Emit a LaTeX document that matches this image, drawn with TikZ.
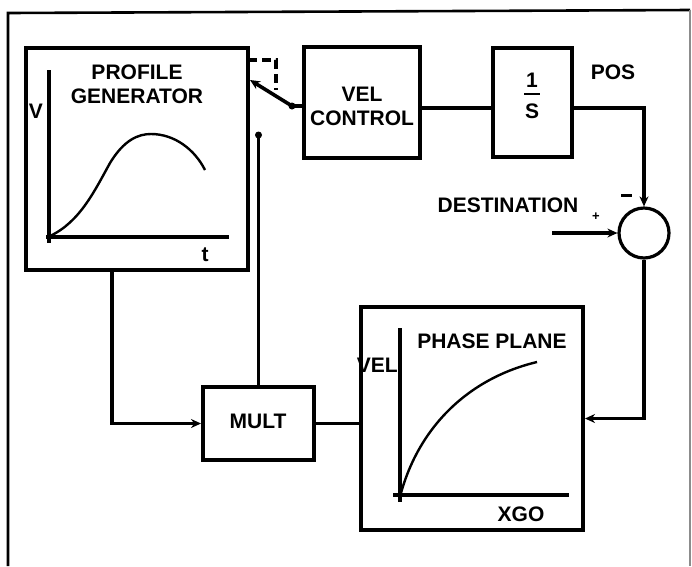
\documentclass[tikz,border=0pt]{standalone}
\usepackage{fontspec}
\setmainfont{Liberation Sans}
\usetikzlibrary{arrows.meta,calc}
\begin{document}
\begin{tikzpicture}[x=1pt,y=-1pt,
  every node/.style={font=\fontsize{21}{24}\selectfont\bfseries, inner sep=0pt},
  blk/.style={draw, line width=4pt, rectangle},
  wire/.style={line width=3.6pt},
  arr/.style={wire, -{Stealth[length=10pt,width=9pt]}},
  plotline/.style={line width=2.4pt},
  axisline/.style={line width=3.4pt},
  frameline/.style={line width=2.6pt},
  lbl/.style={align=center}]
\useasboundingbox (0,0) rectangle (692,566);
% outer frame
\draw[frameline] (8,566) -- (8,13) -- (690,10);
\draw[line width=1.2pt, black!45] (690,10) -- (690,566);
% blocks
\node[blk, minimum width=222pt, minimum height=222pt] (prof) at (137,159) {};
\node[blk, minimum width=116pt, minimum height=111pt] (vel) at (362,102.5) {};
\node[blk, minimum width=79pt, minimum height=109pt] (integ) at (532.5,102.5) {};
\node[draw, circle, line width=3.2pt, minimum size=50pt] (sum) at (644,233) {};
\node[blk, minimum width=222pt, minimum height=223pt] (phase) at (472,418.5) {};
\node[blk, minimum width=111pt, minimum height=73pt] (mult) at (258.5,423.5) {};
% texts
\node[lbl] (ptitle) at (137,84) {PROFILE\\GENERATOR};
\node (vlab) at (36,111) {V};
\node (tlab) at (205,255) {t};
\node[lbl] (veltxt) at (362,106) {VEL\\CONTROL};
\node (one) at (532,80) {1};
\node (ess) at (532,111) {S};
\coordinate (barl) at (524,94);
\coordinate (barr) at (540,94);
\draw[line width=2.8pt] (barl) -- (barr);
\node (pos) at (613,72) {POS};
\node (dest) at (508,205) {DESTINATION};
\node[font=\fontsize{13}{13}\selectfont\bfseries] (plus) at (596,217) {+};
\node[minimum width=11pt, minimum height=3pt, fill=black] (minus) at (626,195) {};
\node (pptxt) at (492,341) {PHASE PLANE};
\node[anchor=east] (vellab) at (398,365) {VEL};
\node (xgo) at (521,514) {XGO};
\node (multtxt) at (258,421) {MULT};
% plot in profile generator
\draw[axisline] (49,70) -- (49,243);
\draw[axisline] (46,237) -- (229,237);
\draw[plotline] (50,236) .. controls (80,222) and (95,190) .. (110,163)
  .. controls (124,140) and (138,134) .. (151,134)
  .. controls (175,134) and (195,150) .. (205,170);
% plot in phase plane
\draw[axisline] (400,328) -- (400,502);
\draw[axisline] (393,495) -- (569,495);
\draw[plotline] (401,493) .. controls (420,425) and (470,378) .. (537,362);
% connectors
\coordinate (lvl) at (0,108);
\draw[wire] (vel.east |- lvl) -- (integ.west |- lvl);
\draw[arr] (integ.east |- lvl) -| (sum.north);
\coordinate (dst) at (552,233);
\draw[arr] (dst) -- (sum.west);
\draw[arr] (sum.south) |- (phase.east);
\draw[wire] (mult.east) -- (mult.east -| phase.west);
\coordinate (pgout) at (112,270);
\draw[arr] (pgout) |- (mult.west);
\coordinate (tap) at (258.5,135);
\draw[wire] (mult.north) -- (tap);
\fill (tap) circle (3.5pt);
\coordinate (sw) at (292,106);
\coordinate (swend) at (250,80);
\draw[wire] (vel.west |- sw) -- (sw);
\fill (sw) circle (3.5pt);
\draw[arr] (sw) -- (swend);
\coordinate (dsa) at (248,60);
\coordinate (dsb) at (276,90);
\draw[wire, dash pattern=on 9pt off 5pt] (dsa) -| (dsb);
\end{tikzpicture}
\end{document}
